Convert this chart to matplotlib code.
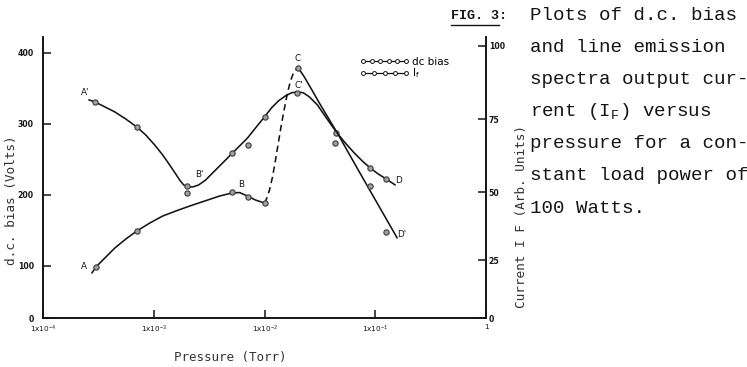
import numpy as np
import matplotlib
matplotlib.use('Agg')
import matplotlib.pyplot as plt
from matplotlib.lines import Line2D
from matplotlib.legend_handler import HandlerLine2D
from matplotlib.ticker import FixedLocator, FuncFormatter, NullLocator

# FIG. 3: d.c. bias and line emission current I_F versus pressure, 100 W load

# d.c. bias (Volts), measured points
bias_p = [2.94e-4, 7.03e-4, 1.98e-3, 1.98e-3, 5.05e-3, 7.03e-3, 1.0e-2, 1.98e-2,
          4.46e-2, 9.0e-2, 0.1256]
bias_v = [331, 296, 213, 203, 259, 271, 310, 343, 287, 238, 222.5]

# hand drawn curve A'-B'-C'-D through the bias points
bias_curve_p = [2.597e-4, 2.940e-4, 3.619e-4, 4.452e-4, 5.593e-4, 7.025e-4, 8.47e-4,
                1.021e-3, 1.205e-3, 1.393e-3, 1.578e-3, 1.715e-3, 1.864e-3, 2.025e-3,
                2.246e-3, 2.543e-3, 2.940e-3, 3.543e-3, 4.271e-3, 5.043e-3, 5.953e-3,
                7.025e-3, 8.295e-3, 1.0e-2, 1.156e-2, 1.337e-2, 1.546e-2, 1.750e-2,
                1.983e-2, 2.246e-2, 2.543e-2, 3.002e-2, 3.619e-2, 4.452e-2, 5.366e-2,
                6.467e-2, 7.634e-2, 9.016e-2, 0.1064, 0.1256, 0.1514]
bias_curve_v = [333.8, 331.0, 324.0, 316.9, 307.0, 295.8, 284.5, 270.4, 256.3, 242.3,
                229.6, 221.1, 214.1, 211.3, 211.3, 214.1, 221.1, 233.8, 246.5, 257.8,
                269.0, 280.3, 294.4, 309.9, 322.5, 332.4, 339.4, 343.7, 345.1, 343.7,
                338.0, 326.8, 308.5, 288.7, 273.2, 259.2, 247.9, 238.0, 229.6, 222.5,
                214.1]

# current I_F (arb. units), measured points
cur_p = [3.0e-4, 7.03e-4, 5.05e-3, 7.03e-3, 1.0e-2, 2.02e-2, 4.37e-2, 9.0e-2, 0.1256]
cur_v = [22.0, 35.7, 50.0, 48.2, 46.0, 92.4, 66.8, 52.1, 35.3]

# curve A-B (solid), B-C (dashed jump), C-D' (solid)
cur_lo_p = [2.763e-4, 3.0e-4, 3.619e-4, 4.452e-4, 5.593e-4, 7.025e-4, 9.205e-4,
            1.205e-3, 1.578e-3, 2.110e-3, 2.880e-3, 3.932e-3, 5.043e-3, 5.953e-3,
            7.025e-3, 8.295e-3, 1.0e-2]
cur_lo_v = [19.40, 21.98, 25.74, 29.41, 32.72, 35.66, 38.60, 41.18, 43.01, 44.85,
            46.69, 48.53, 49.63, 49.82, 48.53, 47.06, 45.96]
cur_jump_p = [1.0e-2, 1.042e-2, 1.109e-2, 1.181e-2, 1.257e-2, 1.337e-2, 1.423e-2,
              1.515e-2, 1.611e-2, 1.715e-2, 1.825e-2, 1.942e-2, 2.025e-2]
cur_jump_v = [45.96, 47.43, 50.68, 55.14, 60.96, 67.12, 73.29, 78.75, 83.87, 87.96,
              90.69, 92.05, 92.39]
cur_hi_p = [2.025e-2, 2.293e-2, 2.651e-2, 3.130e-2, 4.546e-2, 6.467e-2, 9.016e-2, 0.1578]
cur_hi_v = [92.39, 89.32, 85.23, 80.46, 70.21, 59.93, 50.34, 33.09]

x_ticks = [1e-4, 1e-3, 1e-2, 1e-1, 1]
bias_ticks = [0, 100, 200, 300, 400]
cur_ticks = [0, 25, 50, 75, 100]

caption = ["Plots of d.c. bias",
           "and line emission",
           "spectra output cur-",
           r"rent (I$_\mathregular{F}$) versus",
           "pressure for a con-",
           "stant load power of",
           "100 Watts."]

W, H = 747, 367
INK = '#141414'


def px(x, y):
    return x / W, 1 - y / H


def squeezed_scale(ticks, heights):
    # the printed axes squeeze the band below the first tick, so map
    # values piecewise-linearly onto the drawn tick heights
    v = np.r_[ticks, 2 * ticks[-1] - ticks[-2]]
    h = np.r_[heights, 2 * heights[-1] - heights[-2]]
    return (lambda a: np.interp(a, v, h)), (lambda a: np.interp(a, h, v))


def xfmt(v, pos):
    if v >= 1:
        return '1'
    return r'1x10$^{%d}$' % int(round(np.log10(v)))


plt.rcParams['mathtext.fontset'] = 'custom'
plt.rcParams['mathtext.rm'] = 'Liberation Mono'

fig = plt.figure(figsize=(W / 100, H / 100), dpi=100)
ax = fig.add_axes([43 / W, 1 - 318 / H, 443 / W, 281 / H])
ax.set_xscale('log')
ax.set_xlim(1e-4, 1)
ax.set_yscale('function', functions=squeezed_scale(bias_ticks, [0, 52, 123, 194, 265.3]))
ax.set_ylim(0, 422)

ax2 = ax.twinx()
ax2.set_yscale('function', functions=squeezed_scale(cur_ticks, [0, 58, 126, 199, 272.3]))
ax2.set_ylim(0, 103)

line_kw = dict(color=INK, lw=1.15, solid_capstyle='round', solid_joinstyle='round')
pt_kw = dict(ls='none', marker='o', ms=3.8, mfc='#a0a0a0', mec='#3a3a3a', mew=0.8)

ax.plot(bias_curve_p, bias_curve_v, **line_kw)
ax.plot(bias_p, bias_v, **pt_kw)

ax2.plot(cur_lo_p, cur_lo_v, **line_kw)
ax2.plot(cur_jump_p, cur_jump_v, color=INK, lw=1.15, ls=(0, (4, 2.6)))
ax2.plot(cur_hi_p, cur_hi_v, **line_kw)
ax2.plot(cur_p, cur_v, **pt_kw)

# point letters
lab_kw = dict(textcoords='offset pixels', ha='center', va='center', fontsize=6.3,
              color=INK, family='DejaVu Sans')
ax.annotate("A'", (bias_p[0], bias_v[0]), (-10, 9), **lab_kw)
ax.annotate("B'", (bias_p[2], bias_v[2]), (13, 11), **lab_kw)
ax.annotate("C'", (bias_p[7], bias_v[7]), (1, 8), **lab_kw)
ax.annotate("D", (bias_p[10], bias_v[10]), (12, -1), **lab_kw)
ax2.annotate("A", (cur_p[0], cur_v[0]), (-12, 0), **lab_kw)
ax2.annotate("B", (cur_p[2], cur_v[2]), (9, 8), **lab_kw)
ax2.annotate("C", (cur_p[5], cur_v[5]), (-1, 10), **lab_kw)
ax2.annotate("D'", (cur_p[8], cur_v[8]), (16, -2), **lab_kw)

# axes, ticks
for a in (ax, ax2):
    a.spines['top'].set_visible(False)
    for s in a.spines.values():
        s.set_linewidth(1.2)
        s.set_color(INK)
    a.patch.set_visible(False)

ax.xaxis.set_major_locator(FixedLocator(x_ticks))
ax.xaxis.set_minor_locator(NullLocator())
ax.xaxis.set_major_formatter(FuncFormatter(xfmt))
ax.yaxis.set_major_locator(FixedLocator(bias_ticks))
ax.yaxis.set_minor_locator(NullLocator())
ax2.yaxis.set_major_locator(FixedLocator(cur_ticks))
ax2.yaxis.set_minor_locator(NullLocator())

ax.tick_params(axis='x', direction='in', length=6, width=1.1, pad=4, labelsize=5.2,
               colors=INK)
ax.tick_params(axis='y', direction='in', length=6, width=1.1, pad=6.5, labelsize=5.6,
               colors=INK)
ax2.tick_params(axis='y', direction='in', length=6, width=1.1, pad=2, labelsize=5.6,
                colors=INK)
for t in ax.get_yticklabels() + ax2.get_yticklabels():
    t.set_fontweight('bold')

fig.text(*px(12, 200), 'd.c. bias (Volts)', rotation=90, ha='center', va='center',
         family='DejaVu Sans Mono', fontsize=9.2, color='#333333')
fig.text(*px(522, 216), 'Current I F (Arb. Units)', rotation=90, ha='center',
         va='center', family='DejaVu Sans Mono', fontsize=9.2, color='#333333')
fig.text(*px(230, 358), 'Pressure (Torr)', ha='center', va='center',
         family='DejaVu Sans Mono', fontsize=9, color='#333333')

# legend
h1 = Line2D([], [], color=INK, lw=0.9, marker='o', ms=2.8, mfc='white', mec=INK, mew=0.7)
h2 = Line2D([], [], color=INK, lw=0.9, marker='o', ms=2.8, mfc='white', mec=INK, mew=0.7)
ax2.legend([h1, h2], ['dc bias', r'$\mathregular{I_f}$'],
           handler_map={h1: HandlerLine2D(numpoints=6), h2: HandlerLine2D(numpoints=5)},
           loc='upper left', bbox_to_anchor=(0.716, 0.93), frameon=False,
           prop={'family': 'DejaVu Sans', 'size': 7.5}, handlelength=4.7,
           handletextpad=0.3, labelspacing=0.0, borderpad=0, borderaxespad=0)

# caption
fig_lbl = fig.text(*px(507, 16), 'FIG. 3:', ha='right', va='center',
                   family='Liberation Mono', fontsize=9.6, fontweight='bold', color=INK)
for i, line in enumerate(caption):
    fig.text(*px(530, 15 + 32.2 * i), line, ha='left', va='center',
             family='Liberation Mono', fontsize=13.8, color=INK)

fig.canvas.draw()
bb = fig_lbl.get_window_extent()
x0 = bb.x0 / W
x1 = (bb.x0 + bb.width * 6 / 7) / W
fig.add_artist(Line2D([x0, x1], [1 - 25 / H] * 2, color=INK, lw=1.0))

fig.savefig('out.png', dpi=100, facecolor='white')
